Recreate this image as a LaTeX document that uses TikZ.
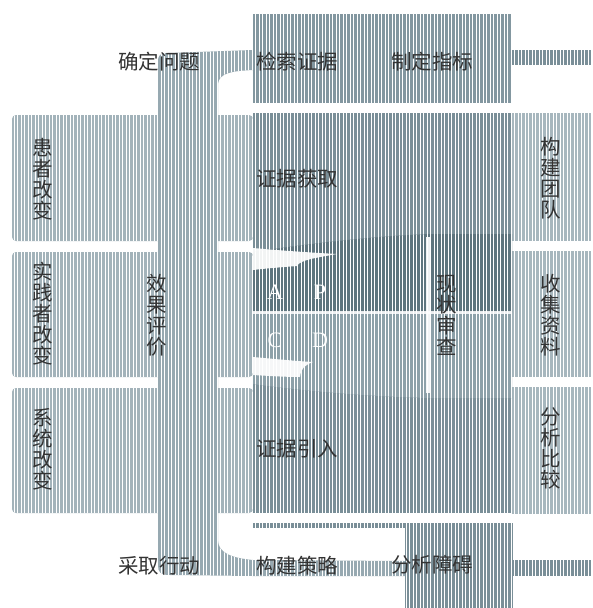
\documentclass[tikz,border=0pt]{standalone}
\usepackage{fontspec}
\setmainfont{Liberation Serif}
\newfontfamily\cjk{Noto Sans CJK SC}
\usetikzlibrary{patterns.meta}
\definecolor{boxL}{HTML}{A3B3BA}
\definecolor{bandC}{HTML}{97A9B1}
\definecolor{midC}{HTML}{7A8F98}
\definecolor{topC}{HTML}{8397A0}
\definecolor{rightC}{HTML}{A7B7BE}
\definecolor{pdcaUp}{HTML}{5E757E}
\definecolor{pdcaLo}{HTML}{8DA1A9}
\definecolor{txt}{HTML}{333333}
\tikzset{
  sh/.style={fill=#1, postaction={pattern={Lines[angle=90,distance=3.5pt,line width=0.9pt]}, pattern color=white, fill opacity=0.22}},
  lbl/.style={inner sep=0pt, text=txt, font=\cjk\fontsize{20.5}{21}\selectfont},
  vlbl/.style={inner sep=0pt, text=txt, align=center, font=\cjk\fontsize{20.5}{21}\selectfont},
  pd/.style={inner sep=0pt, text=white, font=\fontsize{22}{22}\selectfont},
  whitemark/.style={fill=white}
}
\begin{document}
\begin{tikzpicture}[x=1pt,y=-1pt]
\useasboundingbox (0,0) rectangle (592,608);
% left boxes
\path[sh=boxL, rounded corners=4pt] (12,115) rectangle (253,241);
\path[sh=boxL, rounded corners=4pt] (12,252) rectangle (253,377);
\path[sh=boxL, rounded corners=4pt] (12,388) rectangle (253,513);
% top box and middle column
\path[sh=topC] (253,14) rectangle (512,103);
\path[sh=midC] (253,113) rectangle (512,513);
% right boxes
\path[sh=rightC] (512,113) rectangle (592,241);
\path[sh=rightC] (512,251) rectangle (592,377);
\path[sh=rightC] (512,387) rectangle (592,514);
% bands
\path[sh=midC] (512,50) rectangle (592,65);
\path[sh=midC] (253,523) rectangle (512,528);
\path[sh=midC] (405,523) rectangle (513,608);
\path[sh=midC] (512,560) rectangle (592,576);
\path[sh=bandC] (158,62) .. controls (158,55) and (160,53) .. (168,53) -- (253,50) -- (253,70)
  .. controls (232,71) and (219,73) .. (218,84) -- (218,540)
  .. controls (218,553) and (232,558) .. (253,560) -- (405,561) -- (405,576) -- (253,576) -- (170,575)
  .. controls (160,575) and (158,572) .. (158,565) -- cycle;
% PDCA
\path[sh=pdcaUp] (253,252) .. controls (320,242) and (380,236) .. (430,234) -- (512,234) -- (512,312) -- (253,312) -- cycle;
\path[sh=pdcaLo] (253,312) -- (512,312) -- (512,398) -- (430,398) .. controls (380,397) and (310,392) .. (253,384) -- cycle;
\fill[white, opacity=0.85] (253,311) rectangle (512,313.5);
\fill[white, opacity=0.9] (426,237) rectangle (431,393);
\fill[white, opacity=0.92] (253,248) .. controls (275,250) and (300,252) .. (337,254)
  .. controls (315,258) and (300,260) .. (297,266) .. controls (285,267) and (270,268) .. (253,270) -- cycle;
\fill[white, opacity=0.92] (253,357) .. controls (275,359) and (295,361) .. (313,362)
  .. controls (305,365) and (301,368) .. (300,377) .. controls (285,377) and (270,376) .. (253,375) -- cycle;
% texts
\node[lbl] (q1) at (159,62) {确定问题};
\node[lbl] (q2) at (297,62) {检索证据};
\node[lbl] (q3) at (432,62) {制定指标};
\node[lbl] (m1) at (297,179) {证据获取};
\node[lbl] (m2) at (297,449) {证据引入};
\node[lbl] (b1) at (159,566) {采取行动};
\node[lbl] (b2) at (297,566) {构建策略};
\node[lbl] (b3) at (432,565) {分析障碍};
\node[vlbl] (l1) at (43,179) {患\\者\\改\\变};
\node[vlbl] (l2) at (43,314) {实\\践\\者\\改\\变};
\node[vlbl] (l3) at (43,449) {系\\统\\改\\变};
\node[vlbl] (c1) at (157,315) {效\\果\\评\\价};
\node[vlbl] (c2) at (447,315) {现\\状\\审\\查};
\node[vlbl] (r1) at (551,178) {构\\建\\团\\队};
\node[vlbl] (r2) at (551,315) {收\\集\\资\\料};
\node[vlbl] (r3) at (551,448) {分\\析\\比\\较};
\node[pd] (pa) at (275,292) {A};
\node[pd] (pp) at (320,292) {P};
\node[pd] (pc) at (275,340) {C};
\node[pd] (pdd) at (320,340) {D};
\end{tikzpicture}
\end{document}
